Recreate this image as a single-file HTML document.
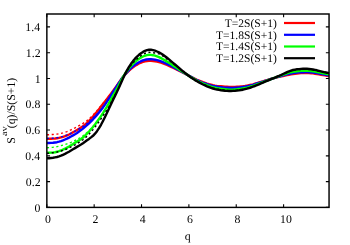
<!DOCTYPE html>
<html><head><meta charset="utf-8"><title>plot</title>
<style>html,body{margin:0;padding:0;background:#fff;overflow:hidden}body{width:350px;height:245px;position:relative;font-family:"Liberation Serif",serif}svg{position:absolute;left:0;top:0;display:block}.t{font-family:"Liberation Serif",serif;opacity:0.999}</style>
</head><body>
<svg width="350" height="245" viewBox="0 0 350 245">
<rect width="350" height="245" fill="#fff"/>
<g fill="none" stroke-linejoin="round">
<path d="M47.0,138.9 L49.0,138.8 L51.0,138.8 L53.0,138.6 L55.0,138.5 L57.0,138.2 L59.0,137.9 L61.0,137.4 L63.0,136.9 L65.0,136.2 L67.0,135.4 L69.0,134.5 L71.0,133.5 L73.0,132.3 L75.0,131.2 L77.0,130.0 L79.0,128.8 L81.0,127.5 L83.0,126.2 L85.0,124.6 L87.0,122.9 L89.0,120.9 L91.0,118.8 L93.0,116.5 L95.0,114.1 L97.0,111.7 L99.0,109.2 L101.0,106.6 L103.0,104.1 L105.0,101.5 L107.0,98.9 L109.0,96.3 L111.0,93.7 L113.0,91.0 L115.0,88.3 L117.0,85.4 L119.0,82.5 L121.0,79.6 L123.0,77.0 L125.0,74.7 L127.0,72.7 L129.0,70.7 L131.0,68.9 L133.0,67.3 L135.0,65.8 L137.0,64.6 L139.0,63.5 L141.0,62.6 L143.0,61.9 L145.0,61.4 L147.0,61.1 L149.0,60.9 L151.0,60.9 L153.0,61.0 L155.0,61.2 L157.0,61.6 L159.0,62.1 L161.0,62.7 L163.0,63.4 L165.0,64.2 L167.0,65.0 L169.0,65.9 L171.0,66.8 L173.0,67.7 L175.0,68.7 L177.0,69.7 L179.0,70.7 L181.0,71.7 L183.0,72.6 L185.0,73.6 L187.0,74.6 L189.0,75.7 L191.0,76.8 L193.0,77.8 L195.0,78.8 L197.0,79.8 L199.0,80.6 L201.0,81.4 L203.0,82.2 L205.0,82.9 L207.0,83.6 L209.0,84.2 L211.0,84.7 L213.0,85.2 L215.0,85.6 L217.0,85.9 L219.0,86.1 L221.0,86.3 L223.0,86.5 L225.0,86.7 L227.0,86.8 L229.0,87.0 L231.0,87.0 L233.0,87.0 L235.0,87.0 L237.0,86.8 L239.0,86.7 L241.0,86.5 L243.0,86.3 L245.0,86.0 L247.0,85.6 L249.0,85.2 L251.0,84.8 L253.0,84.3 L255.0,83.7 L257.0,83.1 L259.0,82.5 L261.0,81.9 L263.0,81.3 L265.0,80.7 L267.0,80.1 L269.0,79.5 L271.0,78.9 L273.0,78.4 L275.0,77.9 L277.0,77.4 L279.0,76.9 L281.0,76.4 L283.0,76.0 L285.0,75.5 L287.0,75.1 L289.0,74.7 L291.0,74.4 L293.0,74.0 L295.0,73.7 L297.0,73.5 L299.0,73.3 L301.0,73.1 L303.0,73.0 L305.0,73.0 L307.0,73.0 L309.0,73.1 L311.0,73.2 L313.0,73.4 L315.0,73.7 L317.0,74.0 L319.0,74.3 L321.0,74.7 L323.0,75.0 L325.0,75.3 L327.0,75.7 L329.0,76.0" stroke="#ff0000" stroke-width="2.4"/>
<path d="M47.0,134.8 L49.0,134.7 L51.0,134.6 L53.0,134.5 L55.0,134.3 L57.0,134.1 L59.0,133.8 L61.0,133.4 L63.0,132.9 L65.0,132.3 L67.0,131.6 L69.0,130.8 L71.0,129.8 L73.0,128.8 L75.0,127.8 L77.0,126.7 L79.0,125.6 L81.0,124.6 L83.0,123.4 L85.0,122.1 L87.0,120.6 L89.0,119.0 L91.0,117.1 L93.0,115.1 L95.0,112.9 L97.0,110.6 L99.0,108.2 L101.0,105.8 L103.0,103.4 L105.0,101.0 L107.0,98.6 L109.0,96.2 L111.0,93.6 L113.0,91.0 L115.0,88.3 L117.0,85.4 L119.0,82.5 L121.0,79.6 L123.0,77.0 L125.0,74.7 L127.0,72.7 L129.0,70.7 L131.0,68.9 L133.0,67.3 L135.0,65.8 L137.0,64.6 L139.0,63.5 L141.0,62.6 L143.0,61.9 L145.0,61.4 L147.0,61.1 L149.0,61.0 L150.0,60.9" stroke="#ff0000" stroke-width="1.4" stroke-dasharray="2.1,2.6"/>
<path d="M47.0,143.0 L49.0,143.0 L51.0,142.9 L53.0,142.8 L55.0,142.5 L57.0,142.2 L59.0,141.7 L61.0,141.1 L63.0,140.4 L65.0,139.5 L67.0,138.6 L69.0,137.6 L71.0,136.5 L73.0,135.4 L75.0,134.2 L77.0,132.9 L79.0,131.5 L81.0,130.1 L83.0,128.6 L85.0,126.9 L87.0,125.2 L89.0,123.3 L91.0,121.3 L93.0,119.3 L95.0,117.1 L97.0,114.9 L99.0,112.5 L101.0,110.0 L103.0,107.4 L105.0,104.6 L107.0,101.6 L109.0,98.5 L111.0,95.3 L113.0,92.2 L115.0,89.1 L117.0,85.9 L119.0,82.8 L121.0,79.8 L123.0,77.0 L125.0,74.5 L127.0,72.2 L129.0,70.0 L131.0,68.0 L133.0,66.2 L135.0,64.7 L137.0,63.4 L139.0,62.2 L141.0,61.2 L143.0,60.4 L145.0,59.8 L147.0,59.4 L149.0,59.2 L151.0,59.2 L153.0,59.4 L155.0,59.7 L157.0,60.1 L159.0,60.7 L161.0,61.4 L163.0,62.2 L165.0,63.0 L167.0,63.9 L169.0,64.8 L171.0,65.8 L173.0,66.9 L175.0,68.0 L177.0,69.1 L179.0,70.3 L181.0,71.3 L183.0,72.4 L185.0,73.5 L187.0,74.6 L189.0,75.8 L191.0,76.9 L193.0,78.1 L195.0,79.2 L197.0,80.2 L199.0,81.1 L201.0,82.0 L203.0,82.8 L205.0,83.5 L207.0,84.2 L209.0,84.8 L211.0,85.4 L213.0,85.9 L215.0,86.3 L217.0,86.6 L219.0,86.9 L221.0,87.1 L223.0,87.4 L225.0,87.6 L227.0,87.7 L229.0,87.8 L231.0,87.9 L233.0,87.9 L235.0,87.8 L237.0,87.7 L239.0,87.5 L241.0,87.3 L243.0,87.0 L245.0,86.7 L247.0,86.3 L249.0,85.8 L251.0,85.3 L253.0,84.8 L255.0,84.2 L257.0,83.5 L259.0,82.9 L261.0,82.2 L263.0,81.6 L265.0,80.9 L267.0,80.3 L269.0,79.6 L271.0,79.0 L273.0,78.4 L275.0,77.8 L277.0,77.2 L279.0,76.6 L281.0,76.0 L283.0,75.4 L285.0,74.9 L287.0,74.4 L289.0,73.9 L291.0,73.5 L293.0,73.1 L295.0,72.8 L297.0,72.6 L299.0,72.4 L301.0,72.3 L303.0,72.2 L305.0,72.1 L307.0,72.1 L309.0,72.2 L311.0,72.3 L313.0,72.5 L315.0,72.8 L317.0,73.1 L319.0,73.5 L321.0,73.9 L323.0,74.2 L325.0,74.6 L327.0,75.0 L329.0,75.3" stroke="#0000ff" stroke-width="2.4"/>
<path d="M47.0,138.5 L49.0,138.4 L51.0,138.3 L53.0,138.2 L55.0,138.0 L57.0,137.7 L59.0,137.4 L61.0,136.9 L63.0,136.4 L65.0,135.7 L67.0,135.0 L69.0,134.1 L71.0,133.2 L73.0,132.2 L75.0,131.1 L77.0,130.0 L79.0,128.9 L81.0,127.7 L83.0,126.4 L85.0,125.0 L87.0,123.5 L89.0,121.8 L91.0,120.0 L93.0,118.0 L95.0,116.0 L97.0,113.9 L99.0,111.7 L101.0,109.4 L103.0,106.9 L105.0,104.2 L107.0,101.4 L109.0,98.4 L111.0,95.4 L113.0,92.2 L115.0,89.1 L117.0,85.9 L119.0,82.8 L121.0,79.8 L123.0,77.0 L125.0,74.5 L127.0,72.2 L129.0,70.0 L131.0,68.0 L133.0,66.2 L135.0,64.7 L137.0,63.4 L139.0,62.2 L141.0,61.2 L143.0,60.4 L145.0,59.8 L147.0,59.4 L149.0,59.2 L149.5,59.2" stroke="#0000ff" stroke-width="1.4" stroke-dasharray="2.1,2.6"/>
<path d="M47.0,152.8 L49.0,152.7 L51.0,152.6 L53.0,152.5 L55.0,152.2 L57.0,151.8 L59.0,151.2 L61.0,150.5 L63.0,149.6 L65.0,148.7 L67.0,147.6 L69.0,146.5 L71.0,145.3 L73.0,144.1 L75.0,142.8 L77.0,141.6 L79.0,140.4 L81.0,139.0 L83.0,137.5 L85.0,135.7 L87.0,133.6 L89.0,131.5 L91.0,129.3 L93.0,127.0 L95.0,124.5 L97.0,121.8 L99.0,119.0 L101.0,116.1 L103.0,113.1 L105.0,109.9 L107.0,106.5 L109.0,103.0 L111.0,99.5 L113.0,95.9 L115.0,92.3 L117.0,88.7 L119.0,84.8 L121.0,80.8 L123.0,77.0 L125.0,73.8 L127.0,71.0 L129.0,68.3 L131.0,65.9 L133.0,63.8 L135.0,61.9 L137.0,60.3 L139.0,58.8 L141.0,57.5 L143.0,56.5 L145.0,55.7 L147.0,55.1 L149.0,54.8 L151.0,54.9 L153.0,55.2 L155.0,55.7 L157.0,56.3 L159.0,57.1 L161.0,58.1 L163.0,59.2 L165.0,60.4 L167.0,61.6 L169.0,62.8 L171.0,64.1 L173.0,65.4 L175.0,66.8 L177.0,68.1 L179.0,69.5 L181.0,70.8 L183.0,72.0 L185.0,73.3 L187.0,74.6 L189.0,75.9 L191.0,77.2 L193.0,78.4 L195.0,79.6 L197.0,80.7 L199.0,81.8 L201.0,82.7 L203.0,83.6 L205.0,84.4 L207.0,85.2 L209.0,85.9 L211.0,86.6 L213.0,87.2 L215.0,87.7 L217.0,88.1 L219.0,88.4 L221.0,88.8 L223.0,89.0 L225.0,89.3 L227.0,89.4 L229.0,89.6 L231.0,89.6 L233.0,89.6 L235.0,89.4 L237.0,89.3 L239.0,89.0 L241.0,88.8 L243.0,88.4 L245.0,88.0 L247.0,87.6 L249.0,87.1 L251.0,86.5 L253.0,85.9 L255.0,85.2 L257.0,84.4 L259.0,83.7 L261.0,82.9 L263.0,82.1 L265.0,81.4 L267.0,80.6 L269.0,79.9 L271.0,79.2 L273.0,78.4 L275.0,77.6 L277.0,76.9 L279.0,76.1 L281.0,75.4 L283.0,74.6 L285.0,74.0 L287.0,73.3 L289.0,72.7 L291.0,72.2 L293.0,71.8 L295.0,71.5 L297.0,71.2 L299.0,71.0 L301.0,70.8 L303.0,70.7 L305.0,70.7 L307.0,70.7 L309.0,70.8 L311.0,71.0 L313.0,71.2 L315.0,71.6 L317.0,72.0 L319.0,72.4 L321.0,72.8 L323.0,73.2 L325.0,73.6 L327.0,74.0 L329.0,74.4" stroke="#00ff00" stroke-width="2.4"/>
<path d="M47.0,147.7 L49.0,147.6 L51.0,147.4 L53.0,147.2 L55.0,146.9 L57.0,146.6 L59.0,146.2 L61.0,145.7 L63.0,145.1 L65.0,144.5 L67.0,143.8 L69.0,143.1 L71.0,142.3 L73.0,141.4 L75.0,140.5 L77.0,139.5 L79.0,138.4 L81.0,137.3 L83.0,135.9 L85.0,134.3 L87.0,132.5 L89.0,130.6 L91.0,128.6 L93.0,126.4 L95.0,124.1 L97.0,121.7 L99.0,119.0 L101.0,116.1 L103.0,113.1 L105.0,109.9 L107.0,106.5 L109.0,103.0 L111.0,99.5 L113.0,95.9 L115.0,92.3 L117.0,88.7 L119.0,84.8 L121.0,80.8 L123.0,77.0 L125.0,73.8 L127.0,71.0 L129.0,68.3 L131.0,65.9 L133.0,63.8 L135.0,61.9 L137.0,60.3 L139.0,58.8 L141.0,57.5 L143.0,56.5 L145.0,55.7 L147.0,55.2 L149.0,54.9 L149.5,54.8" stroke="#00ff00" stroke-width="1.4" stroke-dasharray="2.1,2.6"/>
<path d="M47.0,158.3 L49.0,158.2 L51.0,158.0 L53.0,157.8 L55.0,157.4 L57.0,157.0 L59.0,156.4 L61.0,155.7 L63.0,154.8 L65.0,153.9 L67.0,152.8 L69.0,151.7 L71.0,150.5 L73.0,149.3 L75.0,148.1 L77.0,146.9 L79.0,145.7 L81.0,144.5 L83.0,143.2 L85.0,141.8 L87.0,140.3 L89.0,138.9 L91.0,137.4 L93.0,135.8 L95.0,133.7 L97.0,131.2 L99.0,128.2 L101.0,124.8 L103.0,121.0 L105.0,117.0 L107.0,112.8 L109.0,108.6 L111.0,104.3 L113.0,100.1 L115.0,95.9 L117.0,91.7 L119.0,87.4 L121.0,82.9 L123.0,78.4 L125.0,74.1 L127.0,70.3 L129.0,66.9 L131.0,63.8 L133.0,61.1 L135.0,58.7 L137.0,56.6 L139.0,54.8 L141.0,53.2 L143.0,51.9 L145.0,50.9 L147.0,50.1 L149.0,49.7 L151.0,49.8 L153.0,50.1 L155.0,50.7 L157.0,51.5 L159.0,52.4 L161.0,53.5 L163.0,54.8 L165.0,56.2 L167.0,57.8 L169.0,59.4 L171.0,61.1 L173.0,62.8 L175.0,64.5 L177.0,66.2 L179.0,67.9 L181.0,69.6 L183.0,71.3 L185.0,72.9 L187.0,74.5 L189.0,76.0 L191.0,77.5 L193.0,78.8 L195.0,80.1 L197.0,81.3 L199.0,82.4 L201.0,83.5 L203.0,84.5 L205.0,85.4 L207.0,86.3 L209.0,87.1 L211.0,87.8 L213.0,88.5 L215.0,89.1 L217.0,89.5 L219.0,89.9 L221.0,90.3 L223.0,90.5 L225.0,90.8 L227.0,90.9 L229.0,91.0 L231.0,91.0 L233.0,90.9 L235.0,90.8 L237.0,90.6 L239.0,90.4 L241.0,90.0 L243.0,89.7 L245.0,89.2 L247.0,88.7 L249.0,88.1 L251.0,87.5 L253.0,86.7 L255.0,86.0 L257.0,85.1 L259.0,84.3 L261.0,83.4 L263.0,82.6 L265.0,81.7 L267.0,80.9 L269.0,80.1 L271.0,79.2 L273.0,78.4 L275.0,77.6 L277.0,76.7 L279.0,75.9 L281.0,75.0 L283.0,74.0 L285.0,73.1 L287.0,72.2 L289.0,71.3 L291.0,70.6 L293.0,70.0 L295.0,69.6 L297.0,69.3 L299.0,69.1 L301.0,68.9 L303.0,68.8 L305.0,68.8 L307.0,68.8 L309.0,68.9 L311.0,69.2 L313.0,69.5 L315.0,69.9 L317.0,70.3 L319.0,70.8 L321.0,71.3 L323.0,71.8 L325.0,72.3 L327.0,72.7 L329.0,73.2" stroke="#000000" stroke-width="2.4"/>
<path d="M47.0,153.4 L49.0,153.2 L51.0,153.0 L53.0,152.7 L55.0,152.4 L57.0,152.0 L59.0,151.5 L61.0,151.0 L63.0,150.3 L65.0,149.6 L67.0,148.8 L69.0,147.9 L71.0,146.9 L73.0,145.9 L75.0,144.8 L77.0,143.6 L79.0,142.4 L81.0,141.1 L83.0,139.7 L85.0,138.1 L87.0,136.2 L89.0,134.2 L91.0,131.9 L93.0,129.6 L95.0,127.1 L97.0,124.5 L99.0,121.7 L101.0,118.8 L103.0,115.8 L105.0,112.8 L107.0,109.8 L109.0,106.5 L111.0,102.8 L113.0,98.9 L115.0,95.1 L117.0,91.3 L119.0,87.4 L121.0,82.9 L123.0,78.3 L125.0,74.4 L127.0,71.0 L129.0,67.9 L131.0,65.2 L133.0,62.8 L135.0,60.8 L137.0,58.9 L139.0,57.1 L141.0,55.6 L143.0,54.3 L145.0,53.3 L147.0,52.6 L149.0,52.3 L151.0,52.4 L153.0,52.7 L155.0,53.0 L157.0,53.4 L159.0,53.9 L161.0,54.9 L163.0,56.2 L165.0,57.6 L167.0,59.1 L169.0,60.5 L171.0,62.0 L173.0,63.5 L175.0,65.0 L177.0,66.6 L179.0,68.2 L181.0,69.8 L183.0,71.4 L185.0,73.0 L187.0,74.5 L189.0,76.0 L191.0,77.4 L193.0,78.7 L195.0,80.0 L197.0,81.1 L199.0,82.2 L201.0,83.2 L203.0,84.2 L205.0,85.1 L207.0,86.0 L209.0,86.8 L211.0,87.5 L213.0,88.1 L215.0,88.7 L217.0,89.1 L219.0,89.5 L221.0,89.8 L223.0,90.1 L225.0,90.3 L227.0,90.5 L229.0,90.6 L231.0,90.6 L233.0,90.6 L235.0,90.4 L237.0,90.2 L239.0,90.0 L241.0,89.7 L243.0,89.3 L245.0,88.9 L247.0,88.4 L249.0,87.8 L251.0,87.2 L253.0,86.5 L255.0,85.7 L257.0,84.9 L259.0,84.1 L261.0,83.3 L263.0,82.4 L265.0,81.6 L267.0,80.8 L269.0,80.0 L271.0,79.2 L273.0,78.4 L275.0,77.6 L277.0,76.8 L279.0,75.9 L281.0,75.1 L283.0,74.2 L285.0,73.3 L287.0,72.5 L289.0,71.7 L291.0,71.1 L293.0,70.5 L295.0,70.1 L297.0,69.8 L299.0,69.6 L301.0,69.5 L303.0,69.4 L305.0,69.3 L307.0,69.4 L309.0,69.5 L311.0,69.7 L313.0,70.0 L315.0,70.4 L317.0,70.8 L319.0,71.3 L321.0,71.8 L323.0,72.2 L325.0,72.7 L327.0,73.1 L329.0,73.5" stroke="#000000" stroke-width="1.4" stroke-dasharray="2.1,2.6"/>
</g>
<rect x="46.85" y="14.0" width="282.20" height="193.40" fill="none" stroke="#000" stroke-width="1.45"/>
<path d="M46.85,207.40h3.2 M329.05,207.40h-3.2 M46.85,181.61h3.2 M329.05,181.61h-3.2 M46.85,155.83h3.2 M329.05,155.83h-3.2 M46.85,130.04h3.2 M329.05,130.04h-3.2 M46.85,104.25h3.2 M329.05,104.25h-3.2 M46.85,78.47h3.2 M329.05,78.47h-3.2 M46.85,52.68h3.2 M329.05,52.68h-3.2 M46.85,26.89h3.2 M329.05,26.89h-3.2 M46.80,207.4v-3.2 M46.80,14.0v3.2 M94.16,207.4v-3.2 M94.16,14.0v3.2 M141.52,207.4v-3.2 M141.52,14.0v3.2 M188.88,207.4v-3.2 M188.88,14.0v3.2 M236.24,207.4v-3.2 M236.24,14.0v3.2 M283.60,207.4v-3.2 M283.60,14.0v3.2" stroke="#000" stroke-width="1.1" fill="none"/>
<path d="M284,23.0H315" stroke="#ff0000" stroke-width="2.2"/>
<path d="M284,34.8H315" stroke="#0000ff" stroke-width="2.2"/>
<path d="M284,46.5H315" stroke="#00ff00" stroke-width="2.2"/>
<path d="M284,58.2H315" stroke="#000000" stroke-width="2.2"/>
<g class="t" fill="#000" text-rendering="geometricPrecision"><text transform="translate(224.64,26.90)" font-size="11.55px">T=2S(S+1)</text>
<text transform="translate(215.97,38.65)" font-size="11.55px">T=1.8S(S+1)</text>
<text transform="translate(215.97,50.40)" font-size="11.55px">T=1.4S(S+1)</text>
<text transform="translate(215.97,62.15)" font-size="11.55px">T=1.2S(S+1)</text>
<text transform="translate(34.45,211.50)" font-size="11.8px">0</text>
<text transform="translate(25.80,185.71)" font-size="11.8px">0.2</text>
<text transform="translate(25.33,159.93)" font-size="11.8px">0.4</text>
<text transform="translate(25.50,134.14)" font-size="11.8px">0.6</text>
<text transform="translate(25.60,108.35)" font-size="11.8px">0.8</text>
<text transform="translate(34.71,82.57)" font-size="11.8px">1</text>
<text transform="translate(25.80,56.78)" font-size="11.8px">1.2</text>
<text transform="translate(25.33,30.99)" font-size="11.8px">1.4</text>
<text transform="translate(45.05,223.20)" font-size="11.8px">0</text>
<text transform="translate(92.48,223.20)" font-size="11.8px">2</text>
<text transform="translate(139.75,223.20)" font-size="11.8px">4</text>
<text transform="translate(187.05,223.20)" font-size="11.8px">6</text>
<text transform="translate(234.49,223.20)" font-size="11.8px">8</text>
<text transform="translate(280.11,223.20)" font-size="11.8px">10</text>
<text transform="translate(184.64,240.00)" font-size="11.8px">q</text>
<text transform="translate(15.00,143.69) rotate(-90)" font-size="11.8px">S</text>
<text transform="translate(7.40,136.07) rotate(-90) scale(1.18,1)" font-size="8.8px">av</text>
<text transform="translate(15.00,128.26) rotate(-90)" font-size="11.8px">(q)/S(S+1)</text></g>
</svg>
</body></html>
